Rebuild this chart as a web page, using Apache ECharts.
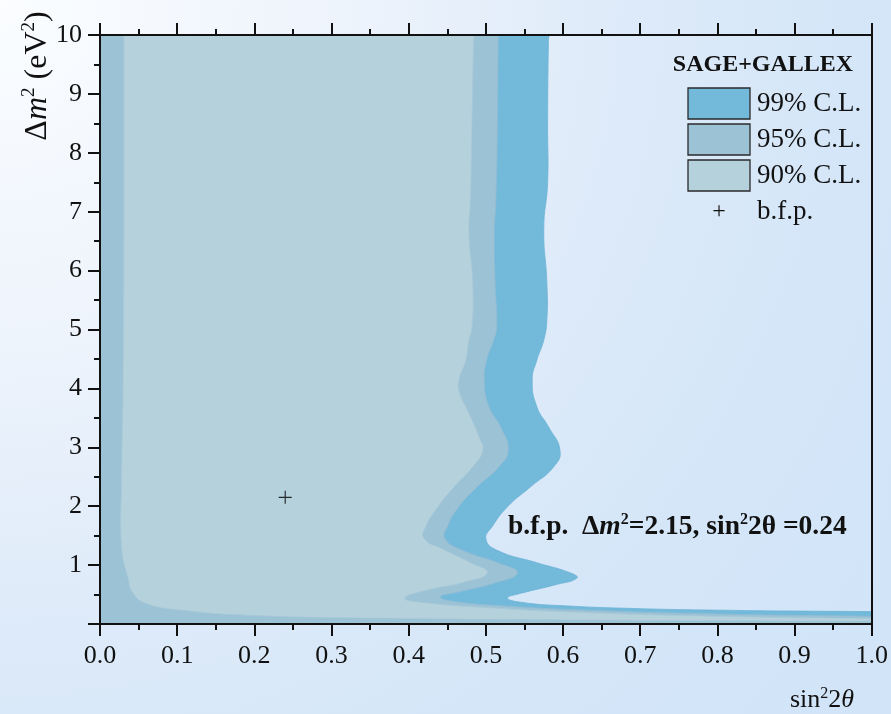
<!DOCTYPE html>
<html>
<head>
<meta charset="utf-8">
<script src="https://cdn.jsdelivr.net/npm/echarts@6/dist/echarts.min.js"></script>
<style>
html,body{margin:0;padding:0;}
#chart{width:891px;height:714px;background:radial-gradient(circle at 0px 0px,#fbfdff 0px,#eef4fc 330px,#dfebf9 600px,#d4e6f8 850px,#d2e4f8 1100px);}
</style>
</head>
<body>
<div id="chart"></div>
<script>
// ---- data ----
const xTicks = ['0.0','0.1','0.2','0.3','0.4','0.5','0.6','0.7','0.8','0.9','1.0'];
const yTicks = ['1','2','3','4','5','6','7','8','9','10'];

// 99% C.L. region: [sin^2 2theta, dm^2]  (corner points lie outside the frame and are clipped)
const cl99 = [
  [-0.05,-0.4],[-0.05,10.3],[0.582,10.3],[0.581,9.9],[0.580,8.5],[0.580,7.5],[0.575,6.7],
  [0.579,5.8],[0.579,5.16],[0.575,4.82],[0.566,4.48],[0.560,4.14],[0.566,3.69],
  [0.581,3.35],[0.596,2.95],[0.588,2.67],[0.558,2.33],[0.528,1.99],[0.508,1.65],
  [0.500,1.45],[0.513,1.26],[0.566,1.04],[0.609,0.87],[0.618,0.78],[0.588,0.66],
  [0.545,0.52],[0.528,0.44],[0.545,0.37],[0.60,0.31],[0.70,0.26],[0.80,0.235],
  [0.90,0.22],[1.0,0.21],[1.06,0.2],[1.06,-0.4]
];
// 95% C.L. region
const cl95 = [
  [-0.05,-0.4],[-0.05,10.3],[0.517,10.3],[0.516,9.9],[0.515,8.5],[0.513,7.2],[0.511,6.64],[0.512,5.79],
  [0.514,5.04],[0.510,4.82],[0.501,4.48],[0.498,4.1],[0.504,3.69],[0.519,3.35],
  [0.529,2.95],[0.517,2.67],[0.489,2.33],[0.465,1.99],[0.450,1.65],[0.447,1.45],
  [0.468,1.26],[0.515,1.04],[0.541,0.87],[0.510,0.69],[0.467,0.55],[0.441,0.46],
  [0.46,0.38],[0.52,0.31],[0.62,0.24],[0.80,0.17],[1.0,0.13],[1.06,0.12],[1.06,-0.4]
];
// 90% C.L. region (band between a left edge and a right edge)
const cl90 = [
  [0.031,10.3],[0.485,10.3],[0.484,9.9],[0.482,8.5],[0.480,7.2],[0.478,6.64],[0.483,5.79],
  [0.482,5.04],[0.478,4.82],[0.474,4.48],[0.465,4.14],[0.466,3.92],[0.478,3.58],
  [0.491,3.18],[0.496,2.95],[0.483,2.67],[0.459,2.33],[0.438,1.99],[0.422,1.65],
  [0.420,1.45],[0.446,1.26],[0.480,1.04],[0.502,0.87],[0.472,0.71],[0.425,0.58],
  [0.395,0.44],[0.415,0.37],[0.50,0.28],[0.62,0.20],[0.80,0.13],[1.0,0.09],[1.06,0.085],
  [1.06,0.05],[1.0,0.05],[0.60,0.07],[0.36,0.10],[0.19,0.15],[0.103,0.24],[0.060,0.35],
  [0.043,0.52],[0.036,0.80],[0.028,1.3],[0.028,2.44],[0.030,4.14],[0.031,7.0],[0.031,9.9]
];
const bfp = [[0.24, 2.15]];

const colors = {c99:'#73b9da', c95:'#9cc2d6', c90:'#b5d1dc'};
const serif = '"Liberation Serif","Times New Roman",serif';

function polyRender(points, fill, stroke){
  return function(params, api){
    if (params.dataIndex !== 0) return;
    const pts = points.map(p => api.coord(p));
    const cs = params.coordSys;
    return {
      type:'polygon',
      shape:{points:pts, smooth:0.5},
      style:{fill:fill, stroke:stroke, lineWidth:0.8},
      clipPath:{type:'rect', shape:{x:cs.x, y:cs.y, width:cs.width, height:cs.height}}
    };
  };
}

const chart = echarts.init(document.getElementById('chart'), null, {renderer:'canvas'});

const axisCommon = {
  type:'value', z:10,
  axisLine:{show:true, onZero:false, lineStyle:{color:'#111', width:2}},
  splitLine:{show:false}
};

const option = {
  backgroundColor:'transparent',
  animation:false,
  grid:{left:100, right:14, top:35, bottom:90, containLabel:false},
  xAxis:[
    Object.assign({}, axisCommon, {
      position:'bottom', min:0, max:1, interval:0.1,
      axisTick:{show:true, inside:false, length:12, lineStyle:{color:'#111', width:2}},
      minorTick:{show:true, splitNumber:2, length:6, lineStyle:{color:'#111', width:2}},
      axisLabel:{show:true, margin:19, fontFamily:serif, fontSize:26, color:'#111',
        formatter:(v)=>{ const i = Math.round(v*10); return xTicks[i] !== undefined ? xTicks[i] : ''; }}
    }),
    Object.assign({}, axisCommon, {
      position:'top', min:0, max:1, interval:0.1,
      axisTick:{show:true, inside:false, length:12, lineStyle:{color:'#111', width:2}},
      minorTick:{show:true, splitNumber:2, length:6, lineStyle:{color:'#111', width:2}},
      axisLabel:{show:false}
    })
  ],
  yAxis:[
    Object.assign({}, axisCommon, {
      position:'left', min:0, max:10, interval:1,
      axisTick:{show:true, inside:false, length:12, lineStyle:{color:'#111', width:2}},
      minorTick:{show:true, splitNumber:2, length:6, lineStyle:{color:'#111', width:2}},
      axisLabel:{show:true, margin:18, fontFamily:serif, fontSize:26, color:'#111',
        formatter:(v)=>{ const i = Math.round(v)-1; return i>=0 && yTicks[i] !== undefined ? yTicks[i] : ''; }}
    }),
    Object.assign({}, axisCommon, {
      position:'right', min:0, max:10, interval:1,
      axisTick:{show:false}, minorTick:{show:false}, axisLabel:{show:false}
    })
  ],
  series:[
    {name:'99% C.L.', type:'custom', xAxisIndex:0, yAxisIndex:0, z:2,
     renderItem:polyRender(cl99, colors.c99, '#6db3d6'), data:cl99, encode:{x:0,y:1}, silent:true},
    {name:'95% C.L.', type:'custom', xAxisIndex:0, yAxisIndex:0, z:3,
     renderItem:polyRender(cl95, colors.c95, '#93bdd3'), data:cl95, encode:{x:0,y:1}, silent:true},
    {name:'90% C.L.', type:'custom', xAxisIndex:0, yAxisIndex:0, z:4,
     renderItem:polyRender(cl90, colors.c90, '#a8c9d8'), data:cl90, encode:{x:0,y:1}, silent:true},
    {name:'b.f.p.', type:'scatter', xAxisIndex:0, yAxisIndex:0, z:5, data:bfp,
     symbol:'path://M-0.09,-1H0.09V-0.09H1V0.09H0.09V1H-0.09V0.09H-1V-0.09H-0.09Z',
     symbolSize:13, itemStyle:{color:'#000'}, silent:true}
  ],
  graphic:[
    // y axis title
    {type:'text', x:38, y:76, rotation:Math.PI/2, z:20,
     style:{text:'{n|Δ}{i|m}{s|2}{n| (eV}{s|2}{n|)}', align:'center', verticalAlign:'middle',
       fill:'#111',
       rich:{
         n:{fontFamily:serif, fontSize:32, lineHeight:36, fill:'#111'},
         i:{fontFamily:serif, fontSize:32, fontStyle:'italic', lineHeight:36, fill:'#111'},
         s:{fontFamily:serif, fontSize:19, lineHeight:36, verticalAlign:'top', fill:'#111', padding:[0,0,13,0]}
       }}},
    // x axis title
    {type:'text', x:822, y:700, z:20,
     style:{text:'{n|sin}{s|2}{n|2}{i|θ}', align:'center', verticalAlign:'middle', fill:'#111',
       rich:{
         n:{fontFamily:serif, fontSize:26, lineHeight:28, fill:'#111'},
         i:{fontFamily:serif, fontSize:26, fontStyle:'italic', lineHeight:28, fill:'#111'},
         s:{fontFamily:serif, fontSize:16, lineHeight:28, verticalAlign:'top', fill:'#111', padding:[0,0,10,0]}
       }}},
    // best-fit annotation
    {type:'text', x:508, y:527, z:20,
     style:{text:'{b|b.f.p.  Δ}{bi|m}{s|2}{b|=2.15, sin}{s|2}{b|2θ =0.24}', align:'left', verticalAlign:'middle',
       fill:'#111',
       rich:{
         b:{fontFamily:serif, fontSize:27.5, fontWeight:'bold', lineHeight:30, fill:'#111'},
         bi:{fontFamily:serif, fontSize:27.5, fontWeight:'bold', fontStyle:'italic', lineHeight:30, fill:'#111'},
         s:{fontFamily:serif, fontSize:16, fontWeight:'bold', lineHeight:30, verticalAlign:'top', fill:'#111', padding:[0,0,12,0]}
       }}},
    // legend
    {type:'text', x:763, y:65, z:20,
     style:{text:'SAGE+GALLEX', align:'center', verticalAlign:'middle', fontFamily:serif,
       fontSize:24, fontWeight:'bold', fill:'#111'}},
    {type:'rect', z:20, shape:{x:688, y:88, width:62, height:31}, style:{fill:colors.c99, stroke:'#2a2a2a', lineWidth:1.3}},
    {type:'rect', z:20, shape:{x:688, y:124, width:62, height:31}, style:{fill:colors.c95, stroke:'#2a2a2a', lineWidth:1.3}},
    {type:'rect', z:20, shape:{x:688, y:160, width:62, height:31}, style:{fill:colors.c90, stroke:'#2a2a2a', lineWidth:1.3}},
    {type:'text', x:757, y:104, z:20, style:{text:'99% C.L.', align:'left', verticalAlign:'middle', fontFamily:serif, fontSize:27, fill:'#111'}},
    {type:'text', x:757, y:140, z:20, style:{text:'95% C.L.', align:'left', verticalAlign:'middle', fontFamily:serif, fontSize:27, fill:'#111'}},
    {type:'text', x:757, y:176, z:20, style:{text:'90% C.L.', align:'left', verticalAlign:'middle', fontFamily:serif, fontSize:27, fill:'#111'}},
    {type:'text', x:719, y:212, z:20, style:{text:'+', align:'center', verticalAlign:'middle', fontFamily:serif, fontSize:24, fill:'#111'}},
    {type:'text', x:757, y:212, z:20, style:{text:'b.f.p.', align:'left', verticalAlign:'middle', fontFamily:serif, fontSize:27, fill:'#111'}}
  ]
};
chart.setOption(option);
</script>
</body>
</html>
